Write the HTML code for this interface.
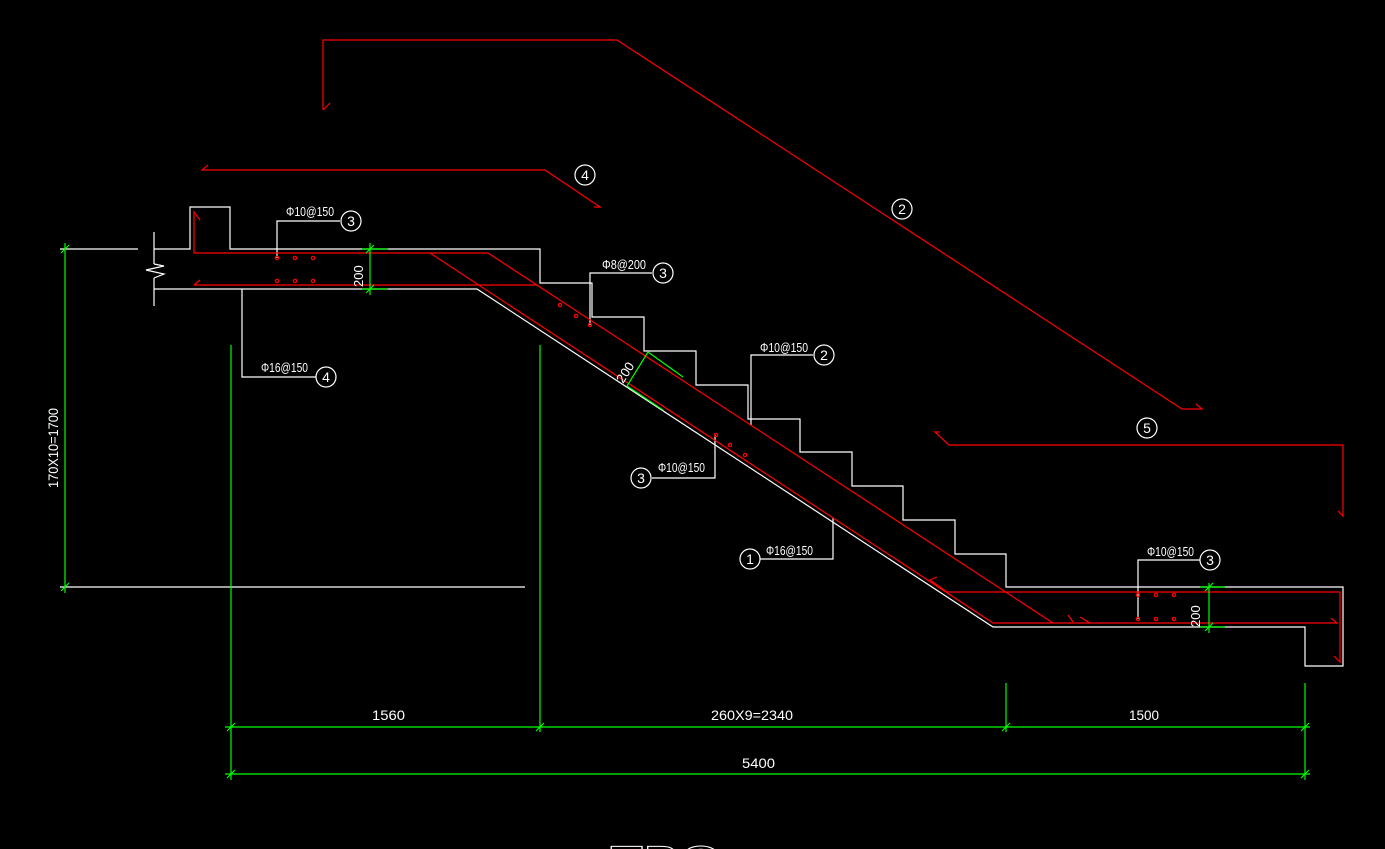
<!DOCTYPE html>
<html><head><meta charset="utf-8"><style>
html,body{margin:0;padding:0;background:#000;overflow:hidden}
svg{display:block}
text{font-family:"Liberation Sans Narrow","Liberation Sans",sans-serif;fill:#fff}
</style></head><body>
<svg width="1385" height="849" viewBox="0 0 1385 849" xmlns="http://www.w3.org/2000/svg">
<g fill="none" stroke-width="1.2">
<!-- white concrete outline -->
<g stroke="#fff">
<polyline points="154,249 190,249 190,207 230,207 230,249 540,249 540,283 592,283 592,317 644,317 644,351 696,351 696,385 748,385 748,419 800,419 800,452 852,452 852,486 903,486 903,520 955,520 955,554 1006,554 1006,587 1343,587 1343,666 1305,666 1305,627 993,627 477,289 154,289"/>
<line x1="154" y1="232" x2="154" y2="264"/>
<line x1="154" y1="278" x2="154" y2="306"/>
<polyline points="154,264 164,266 146,270 164,274 154,278"/>
<line x1="60" y1="249" x2="138" y2="249"/>
<line x1="60" y1="587" x2="525" y2="587"/>
<!-- leaders -->
<polyline points="277,258 277,221 340,221"/>
<polyline points="242,289 242,377 316,377"/>
<polyline points="590,325 590,273 652,273"/>
<polyline points="751,425 751,355 813,355"/>
<polyline points="715,435 715,478 652,478"/>
<polyline points="833,518 833,559 760,559"/>
<polyline points="1138,619 1138,560 1200,560"/>
<circle cx="351" cy="221" r="10"/>
<circle cx="326" cy="377" r="10"/>
<circle cx="663" cy="273" r="10"/>
<circle cx="824" cy="355" r="10"/>
<circle cx="641" cy="478" r="10"/>
<circle cx="750" cy="559" r="10"/>
<circle cx="1210" cy="560" r="10"/>
<circle cx="585" cy="175" r="10"/>
<circle cx="902" cy="209" r="10"/>
<circle cx="1147" cy="428" r="10"/>
</g>
<!-- red rebars -->
<g stroke="#f00">
<polyline points="323,110 323,40 617,40 1182,409 1202,409 1196,404"/>
<line x1="323" y1="110" x2="330" y2="103"/>
<polyline points="208,165 202,170 545,170 600,207 594,207"/>
<polyline points="940,432 935,432 949,445 1343,445 1343,516 1338,511"/>
<polyline points="200,220 194,212 194,253 488,253 1053,623"/>
<polyline points="194,285 537,285"/>
<line x1="194" y1="285" x2="200" y2="280"/>
<polyline points="430,253 993,623 1337,623 1331,618"/>
<polyline points="937,577 930,580 947,592 1340,592 1340,662 1334,656"/>
<line x1="1068" y1="615" x2="1073" y2="622"/>
<line x1="1080" y1="617" x2="1090" y2="623"/>
</g>
<g fill="none" stroke="#f00" stroke-width="1.3">
<circle cx="277" cy="258" r="1.6"/><circle cx="295" cy="258" r="1.6"/><circle cx="313" cy="258" r="1.6"/>
<circle cx="277" cy="281" r="1.6"/><circle cx="295" cy="281" r="1.6"/><circle cx="313" cy="281" r="1.6"/>
<circle cx="1138" cy="595" r="1.6"/><circle cx="1156" cy="595" r="1.6"/><circle cx="1174" cy="595" r="1.6"/>
<circle cx="1138" cy="619" r="1.6"/><circle cx="1156" cy="619" r="1.6"/><circle cx="1174" cy="619" r="1.6"/>
<circle cx="560" cy="305" r="1.6"/><circle cx="576" cy="316" r="1.6"/><circle cx="590" cy="325" r="1.6"/>
<circle cx="716" cy="435" r="1.6"/><circle cx="730" cy="445" r="1.6"/><circle cx="745" cy="455" r="1.6"/>
</g>
<!-- green dims -->
<g stroke="#0f0">
<line x1="231" y1="345" x2="231" y2="780"/>
<line x1="540" y1="345" x2="540" y2="732"/>
<line x1="1006" y1="683" x2="1006" y2="732"/>
<line x1="1305" y1="683" x2="1305" y2="780"/>
<line x1="225" y1="727" x2="1310" y2="727"/>
<line x1="225" y1="774" x2="1310" y2="774"/>
<line x1="65" y1="243" x2="65" y2="593"/>
<line x1="370" y1="243" x2="370" y2="295"/>
<line x1="362" y1="249" x2="388" y2="249"/>
<line x1="362" y1="289" x2="388" y2="289"/>
<line x1="1209" y1="583" x2="1209" y2="633"/>
<line x1="1200" y1="587" x2="1225" y2="587"/>
<line x1="1200" y1="627" x2="1225" y2="627"/>
<line x1="648" y1="352" x2="627" y2="386"/>
<line x1="648" y1="352" x2="683" y2="377"/>
<line x1="627" y1="386" x2="663" y2="410"/>
<g>
<line x1="227" y1="731" x2="235" y2="723"/><line x1="536" y1="731" x2="544" y2="723"/>
<line x1="1002" y1="731" x2="1010" y2="723"/><line x1="1301" y1="731" x2="1309" y2="723"/>
<line x1="227" y1="778" x2="235" y2="770"/><line x1="1301" y1="778" x2="1309" y2="770"/>
<line x1="61" y1="253" x2="69" y2="245"/><line x1="61" y1="591" x2="69" y2="583"/>
<line x1="366" y1="253" x2="374" y2="245"/><line x1="366" y1="293" x2="374" y2="285"/>
<line x1="1205" y1="591" x2="1213" y2="583"/><line x1="1205" y1="631" x2="1213" y2="623"/>
</g>
</g>
</g>
<g font-size="14">
<text x="372" y="720" textLength="33" lengthAdjust="spacingAndGlyphs">1560</text>
<text x="711" y="720" textLength="82" lengthAdjust="spacingAndGlyphs">260X9=2340</text>
<text x="1129" y="720" textLength="30" lengthAdjust="spacingAndGlyphs">1500</text>
<text x="742" y="768" textLength="33" lengthAdjust="spacingAndGlyphs">5400</text>
<text transform="translate(58,488) rotate(-90)" textLength="80" lengthAdjust="spacingAndGlyphs">170X10=1700</text>
<text transform="translate(363,287) rotate(-90)" font-size="13">200</text>
<text transform="translate(1200,627) rotate(-90)" font-size="13">200</text>
<text transform="translate(623,384) rotate(-57)" font-size="13">200</text>
</g>
<g font-size="13">
<text x="286" y="216" textLength="48" lengthAdjust="spacingAndGlyphs">Φ10@150</text>
<text x="261" y="372" textLength="47" lengthAdjust="spacingAndGlyphs">Φ16@150</text>
<text x="602" y="269" textLength="44" lengthAdjust="spacingAndGlyphs">Φ8@200</text>
<text x="760" y="352" textLength="48" lengthAdjust="spacingAndGlyphs">Φ10@150</text>
<text x="658" y="472" textLength="47" lengthAdjust="spacingAndGlyphs">Φ10@150</text>
<text x="766" y="555" textLength="47" lengthAdjust="spacingAndGlyphs">Φ16@150</text>
<text x="1147" y="556" textLength="47" lengthAdjust="spacingAndGlyphs">Φ10@150</text>
</g>
<g font-size="14" text-anchor="middle">
<text x="351" y="226">3</text><text x="326" y="382">4</text><text x="663" y="278">3</text>
<text x="824" y="360">2</text><text x="641" y="483">3</text><text x="750" y="564">1</text>
<text x="1210" y="565">3</text><text x="585" y="180">4</text><text x="902" y="214">2</text>
<text x="1147" y="433">5</text>
</g>
<text x="610" y="875" font-size="42" textLength="112" lengthAdjust="spacingAndGlyphs" style="fill:none;stroke:#fff;stroke-width:1">TBQ</text>
</svg>
</body></html>
